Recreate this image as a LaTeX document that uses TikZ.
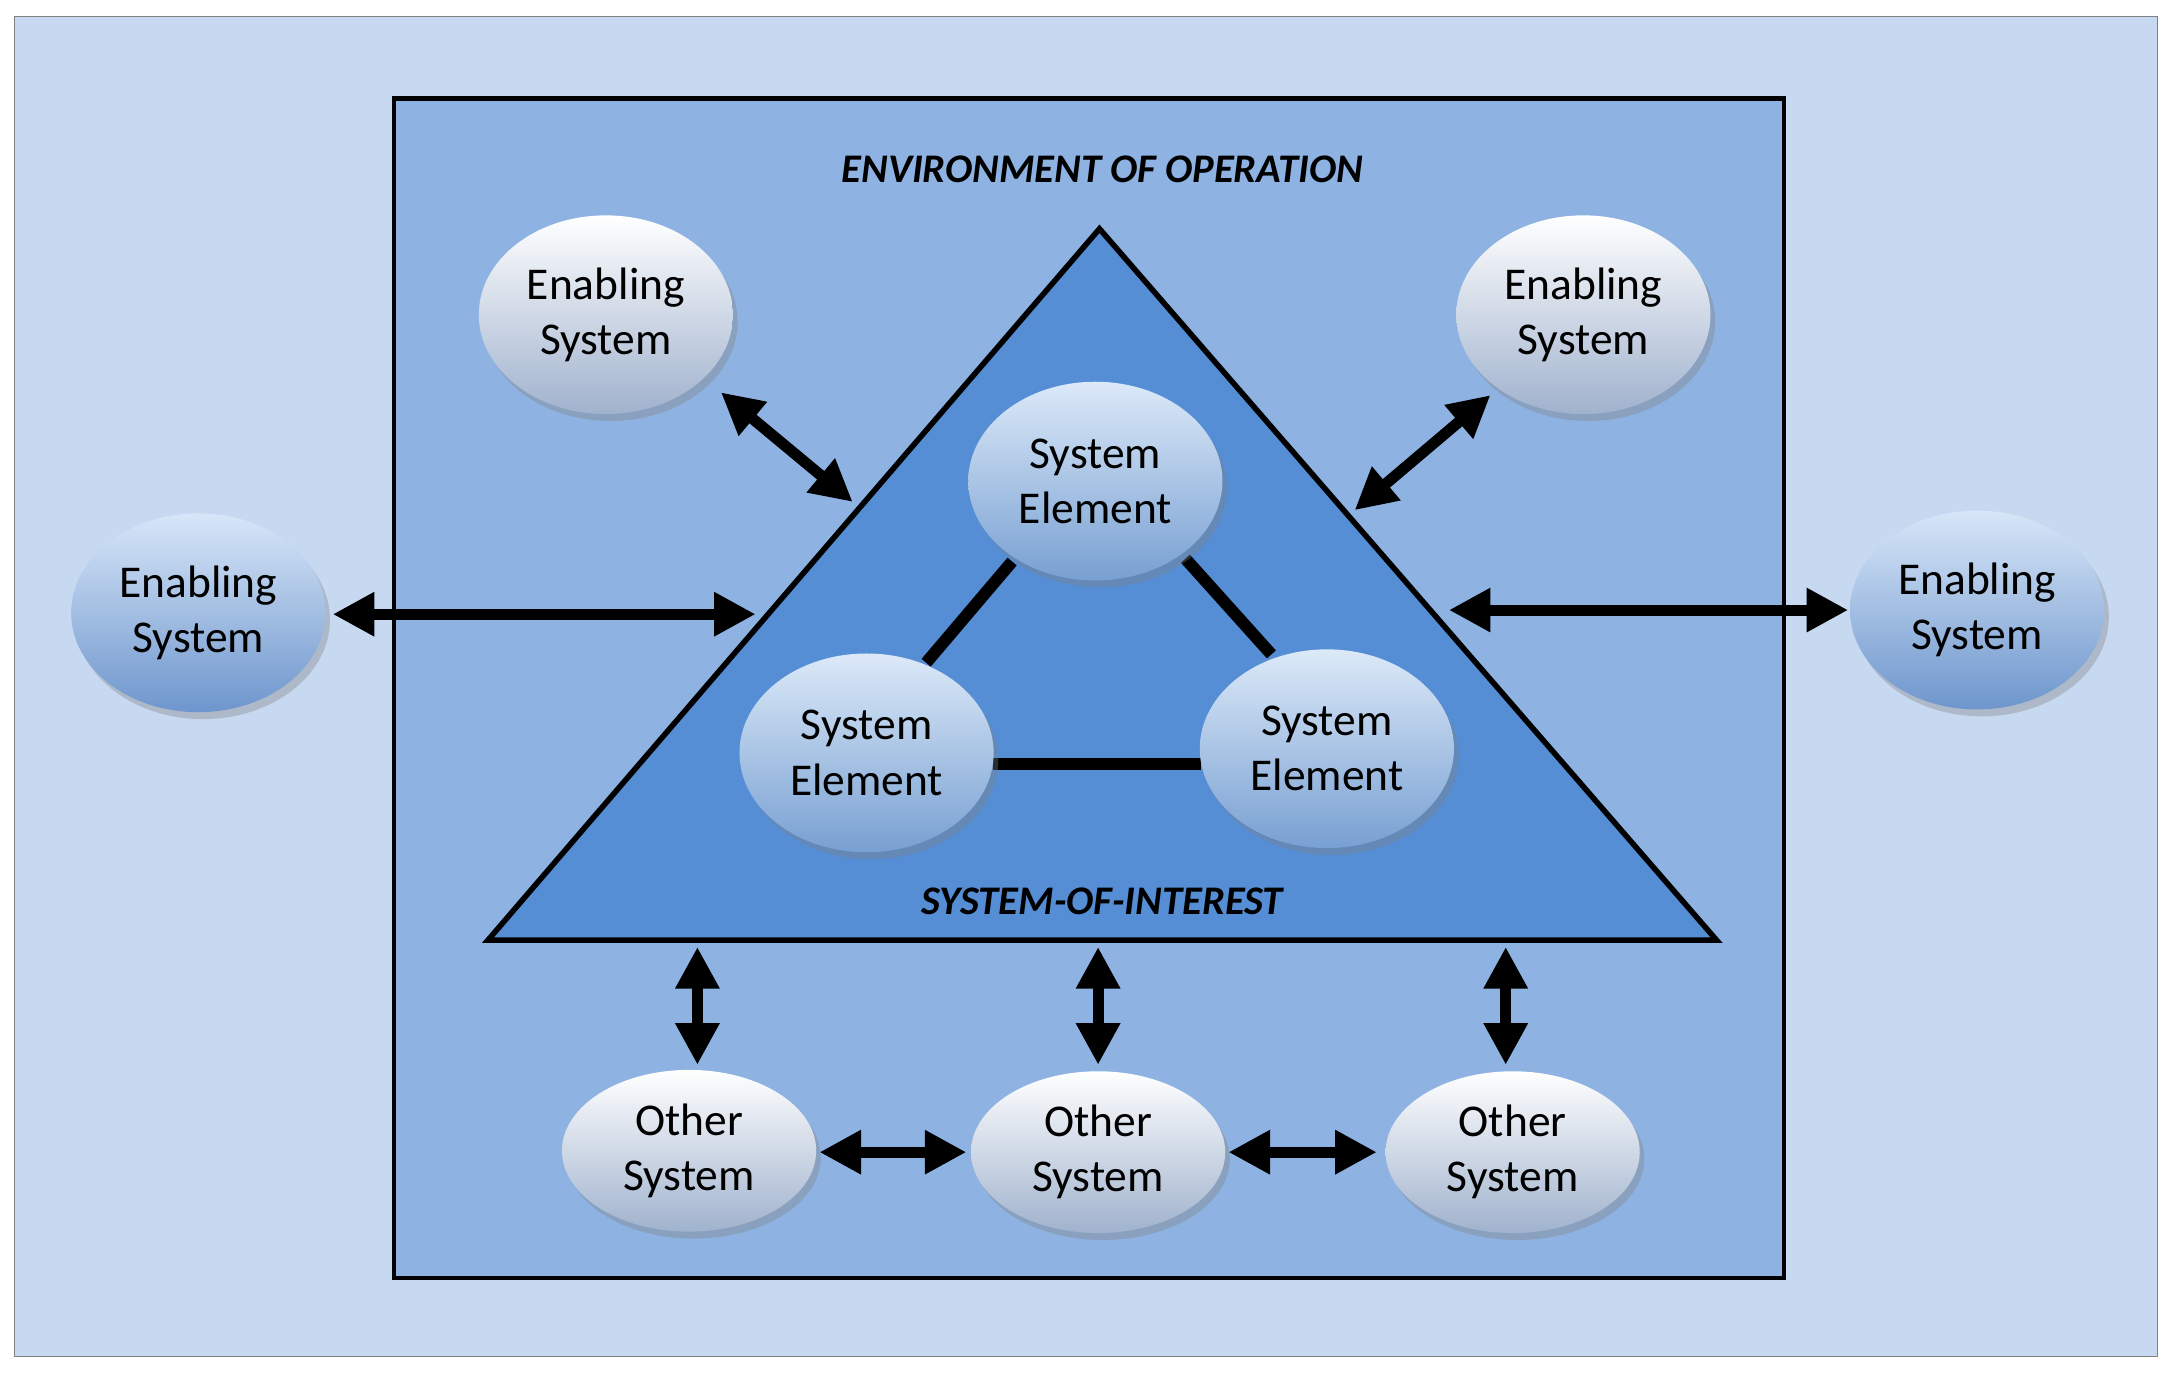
\documentclass[tikz,border=0pt]{standalone}
\usepackage{fontspec}
\setmainfont{Carlito}
\usetikzlibrary{shapes.geometric,arrows.meta,shadows}
\definecolor{outerbg}{RGB}{198,217,240}
\definecolor{innerbg}{RGB}{142,179,226}
\definecolor{tri}{RGB}{85,142,213}
\definecolor{lightbot}{RGB}{160,178,205}
\definecolor{bluebot}{RGB}{110,150,205}
\definecolor{bluetop}{RGB}{215,230,248}
\definecolor{sebot}{RGB}{120,160,210}
\definecolor{setop}{RGB}{220,233,248}
\begin{document}
\begin{tikzpicture}[x=0.3mm,y=-0.3mm,
  light/.style={ellipse,draw=none,top color=white,bottom color=#1,drop shadow={opacity=0.35,shadow xshift=1mm,shadow yshift=-1.5mm},align=center,font=\fontsize{28}{34}\selectfont},
  light/.default=lightbot,
  arr/.style={line width=2.4mm,{Triangle[length=9mm,width=9mm]}-{Triangle[length=9mm,width=9mm]}},
  link/.style={line width=2.6mm},
  sz/.style={minimum width=55mm,minimum height=43mm},
  osz/.style={minimum width=55mm,minimum height=35mm}]
\useasboundingbox (0,0) rectangle (1568,990);
\fill[white] (0,0) rectangle (1568,990);
\draw[fill=outerbg,draw=gray] (10,12) rectangle (1556,978);
\draw[fill=innerbg,line width=0.9mm] (284,71) rectangle (1287,922);
\node[font=\fontsize{25}{30}\selectfont\bfseries\itshape] (env) at (795,122) {ENVIRONMENT OF OPERATION};
\draw[fill=tri,line width=1.2mm,line join=miter] (793,165) -- (1238,678) -- (352,678) -- cycle;
\node[font=\fontsize{25}{30}\selectfont\bfseries\itshape] (soi) at (795,650) {SYSTEM-OF-INTEREST};
\draw[link] (730,405) -- (668,478);
\draw[link] (855,403) -- (917,472);
\draw[link] (716,551) -- (866,551);
\node[light,sz] (es1) at (437,227) {Enabling\\System};
\node[light,sz] (es2) at (1142,227) {Enabling\\System};
\node[light=bluebot,sz,top color=bluetop] (es3) at (143,442) {Enabling\\System};
\node[light=bluebot,sz,top color=bluetop] (es4) at (1426,440) {Enabling\\System};
\node[light=sebot,sz,top color=setop] (se1) at (790,347) {System\\Element};
\node[light=sebot,sz,top color=setop] (se2) at (625,543) {System\\Element};
\node[light=sebot,sz,top color=setop] (se3) at (957,540) {System\\Element};
\node[light,osz] (os1) at (497,830) {Other\\System};
\node[light,osz] (os2) at (792,831) {Other\\System};
\node[light,osz] (os3) at (1091,831) {Other\\System};
\coordinate (a1) at (520,283); \coordinate (b1) at (615,362);
\coordinate (a2) at (240,443); \coordinate (b2) at (545,443);
\coordinate (a3) at (1045,440); \coordinate (b3) at (1333,440);
\coordinate (a4) at (1075,285); \coordinate (b4) at (977,368);
\coordinate (v1) at (503,683); \coordinate (w1) at (503,768);
\coordinate (v2) at (792,683); \coordinate (w2) at (792,768);
\coordinate (v3) at (1086,683); \coordinate (w3) at (1086,768);
\coordinate (h1) at (591,831); \coordinate (k1) at (697,831);
\coordinate (h2) at (886,831); \coordinate (k2) at (993,831);
\draw[arr] (a1) -- (b1);
\draw[arr] (a2) -- (b2);
\draw[arr] (a3) -- (b3);
\draw[arr] (a4) -- (b4);
\draw[arr] (v1) -- (w1);
\draw[arr] (v2) -- (w2);
\draw[arr] (v3) -- (w3);
\draw[arr] (h1) -- (k1);
\draw[arr] (h2) -- (k2);
\end{tikzpicture}
\end{document}
